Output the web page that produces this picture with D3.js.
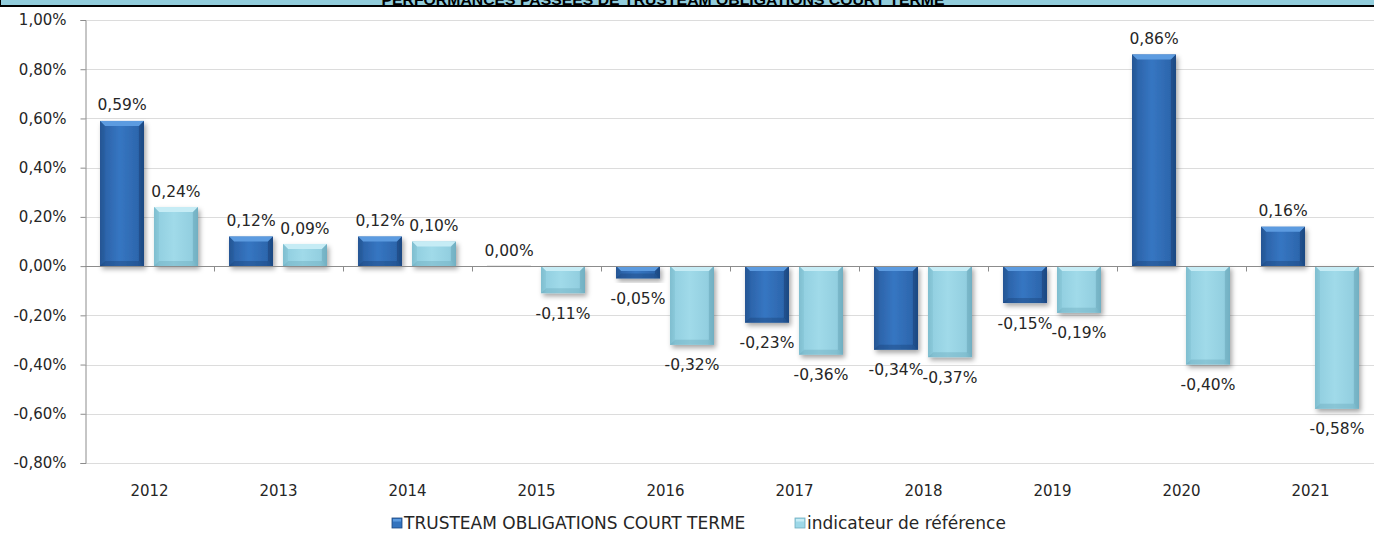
<!DOCTYPE html>
<html>
<head>
<meta charset="utf-8">
<script src="https://cdn.jsdelivr.net/npm/d3@7"></script>
<style>
  html, body { margin: 0; padding: 0; background: #fff; }
  svg { display: block; }
</style>
</head>
<body>
<div id="chart"></div>
<script>
var years = ["2012","2013","2014","2015","2016","2017","2018","2019","2020","2021"]
var seriesNames = ["TRUSTEAM OBLIGATIONS COURT TERME", "indicateur de référence"]
var fundValues = [0.59, 0.12, 0.12, 0.00, -0.05, -0.23, -0.34, -0.15, 0.86, 0.16]
var benchValues = [0.24, 0.09, 0.10, -0.11, -0.32, -0.36, -0.37, -0.19, -0.40, -0.58]
var yTicks = [-0.8, -0.6, -0.4, -0.2, 0, 0.2, 0.4, 0.6, 0.8, 1.0]
var title = "PERFORMANCES PASSEES DE TRUSTEAM OBLIGATIONS COURT TERME"

var W = 1374, H = 533
var margins = {left: 85, right: -1, top: 20, bottom: 70}

var svg = d3.select("#chart").append("svg")
    .attr("width", W)
    .attr("height", H)
    .style("font-family", "'DejaVu Sans', Verdana, sans-serif")

var defs = svg.append("defs")

// body gradients (horizontal) for the bevelled bars
function hGrad(id, stops){
    var g = defs.append("linearGradient").attr("id", id)
        .attr("x1", "0").attr("x2", "1").attr("y1", "0").attr("y2", "0")
    stops.forEach(function(s){
        g.append("stop").attr("offset", s[0]).attr("stop-color", s[1])
    })
}
hGrad("bodyDark", [[0, "#1d4a85"], [0.12, "#2c64aa"], [0.45, "#3676c2"], [0.85, "#2d67ae"], [1, "#1e4d89"]])
hGrad("bodyLight", [[0, "#76b4c7"], [0.12, "#93d0e1"], [0.45, "#a0dae9"], [0.85, "#93cfe0"], [1, "#74b2c5"]])

var shadow = defs.append("filter").attr("id", "shadow")
    .attr("x", "-20%").attr("y", "-20%").attr("width", "150%").attr("height", "150%")
shadow.append("feDropShadow")
    .attr("dx", 2).attr("dy", 3).attr("stdDeviation", 2.4)
    .attr("flood-color", "#000").attr("flood-opacity", 0.35)

var colors = {
    dark: {body: "url(#bodyDark)", top: "#5c9be0", side: "#2a5e9f", bottom: "#1c477f", marker: "#3373be"},
    light: {body: "url(#bodyLight)", top: "#c6ecf5", side: "#86c4d6", bottom: "#6fadbf", marker: "#9dd8e8"}
}

var x0 = d3.scaleBand().domain(years).range([margins.left, W - margins.right])
var x1 = d3.scaleBand().domain(seriesNames).range([15, 113]).paddingInner(0.185)
var y = d3.scaleLinear().domain([-0.8, 1.0]).range([463, 20])

function fmt(v){
    return (v < 0 ? "-" : "") + Math.abs(v).toFixed(2).replace(".", ",") + "%"
}

// title strip (cut at the top of the picture)
svg.append("rect").attr("x", 0).attr("y", 0).attr("width", W).attr("height", 6).attr("fill", "#92cddc")
svg.append("line").attr("x1", 0).attr("x2", W).attr("y1", 6).attr("y2", 6)
    .attr("stroke", "#000").attr("stroke-width", 2)
svg.append("line").attr("x1", 0.5).attr("x2", 0.5).attr("y1", 0).attr("y2", 7)
    .attr("stroke", "#000").attr("stroke-width", 1)
svg.append("text")
    .attr("x", 663).attr("y", 5)
    .attr("text-anchor", "middle")
    .attr("font-family", "'Liberation Sans', Arial, sans-serif")
    .attr("font-weight", "bold")
    .attr("font-size", "15px")
    .attr("textLength", 563)
    .attr("lengthAdjust", "spacingAndGlyphs")
    .attr("fill", "#000")
    .text(title)

// gridlines
svg.append("g").selectAll("line")
    .data(yTicks)
    .enter().append("line")
    .attr("x1", margins.left).attr("x2", W)
    .attr("y1", function(d){ return Math.round(y(d)) + 0.5 })
    .attr("y2", function(d){ return Math.round(y(d)) + 0.5 })
    .attr("stroke", "#dcdcdc")

// y axis
var yAxis = svg.append("g")
    .attr("transform", "translate(" + (margins.left + 0.5) + ",0)")
    .call(d3.axisLeft(y).tickValues(yTicks).tickSize(5).tickPadding(14).tickFormat(fmt))
yAxis.select(".domain").attr("stroke", "#8c8c8c")
yAxis.selectAll(".tick line").attr("stroke", "#8c8c8c")
yAxis.selectAll(".tick text")
    .attr("font-family", "'DejaVu Sans', Verdana, sans-serif")
    .attr("font-size", "15px")
    .attr("fill", "#262626")

// bars
function drawBar(g, x, v, w, c){
    var y0 = y(0), yv = y(v)
    var top = Math.min(y0, yv), h = Math.abs(yv - y0)
    if (h < 0.5) {
        g.append("rect").attr("x", x).attr("y", y0 - 1).attr("width", w).attr("height", 2)
            .attr("fill", "#e6e6e6")
        return
    }
    var b = Math.min(5, h / 2)
    var bar = g.append("g").attr("filter", "url(#shadow)")
    bar.append("rect").attr("x", x).attr("y", top).attr("width", w).attr("height", h).attr("fill", c.body)
    // bevel faces
    bar.append("polygon")
        .attr("points", [[x, top], [x + w, top], [x + w - b, top + b], [x + b, top + b]].join(" "))
        .attr("fill", c.top)
    bar.append("polygon")
        .attr("points", [[x, top + h], [x + w, top + h], [x + w - b, top + h - b], [x + b, top + h - b]].join(" "))
        .attr("fill", c.bottom)
        .attr("opacity", 0.45)
    bar.append("polygon")
        .attr("points", [[x, top], [x + b, top + b], [x + b, top + h - b], [x, top + h]].join(" "))
        .attr("fill", c.side)
        .attr("opacity", 0.6)
    bar.append("polygon")
        .attr("points", [[x + w, top], [x + w - b, top + b], [x + w - b, top + h - b], [x + w, top + h]].join(" "))
        .attr("fill", c.bottom)
        .attr("opacity", 0.6)
}

var barsG = svg.append("g")
var labelsG = svg.append("g")
var allSeries = [
    {name: seriesNames[0], values: fundValues, c: colors.dark},
    {name: seriesNames[1], values: benchValues, c: colors.light}
]
allSeries.forEach(function(s){
    s.values.forEach(function(v, i){
        var bx = x0(years[i]) + x1(s.name)
        drawBar(barsG, bx, v, x1.bandwidth(), s.c)
        var ly = v >= 0 ? y(v) - 16 : y(v) + 20
        labelsG.append("text")
            .attr("x", bx + x1.bandwidth() / 2)
            .attr("y", ly)
            .attr("dy", "0.36em")
            .attr("text-anchor", "middle")
            .attr("font-size", "15.5px")
            .attr("fill", "#262626")
            .text(fmt(v))
    })
})

// x axis on the zero line
var xAxis = svg.append("g")
    .attr("transform", "translate(0," + (Math.round(y(0)) + 0.5) + ")")
xAxis.append("line").attr("x1", margins.left).attr("x2", W).attr("stroke", "#8c8c8c")
xAxis.selectAll(".xt")
    .data(years.slice(1))
    .enter().append("line")
    .attr("class", "xt")
    .attr("x1", function(d){ return Math.round(x0(d)) + 0.5 })
    .attr("x2", function(d){ return Math.round(x0(d)) + 0.5 })
    .attr("y1", 0).attr("y2", 5)
    .attr("stroke", "#8c8c8c")

svg.append("g").selectAll("text")
    .data(years)
    .enter().append("text")
    .attr("x", function(d){ return x0(d) + x0.bandwidth() / 2 })
    .attr("y", 491)
    .attr("dy", "0.36em")
    .attr("text-anchor", "middle")
    .attr("font-size", "15px")
    .attr("fill", "#262626")
    .text(function(d){ return d })

// legend
var legendPos = [392, 795]
allSeries.forEach(function(s, i){
    var lg = svg.append("g").attr("transform", "translate(" + legendPos[i] + ",523)")
    lg.append("rect").attr("x", 0).attr("y", -5).attr("width", 10).attr("height", 10)
        .attr("fill", s.c.marker).attr("stroke", s.c.bottom).attr("stroke-width", 0.8)
    lg.append("rect").attr("x", 1).attr("y", -4).attr("width", 8).attr("height", 2.5)
        .attr("fill", s.c.top)
    lg.append("text")
        .attr("x", 12).attr("y", 0).attr("dy", "0.36em")
        .attr("font-size", "17px")
        .attr("fill", "#262626")
        .text(s.name)
})
</script>
</body>
</html>
